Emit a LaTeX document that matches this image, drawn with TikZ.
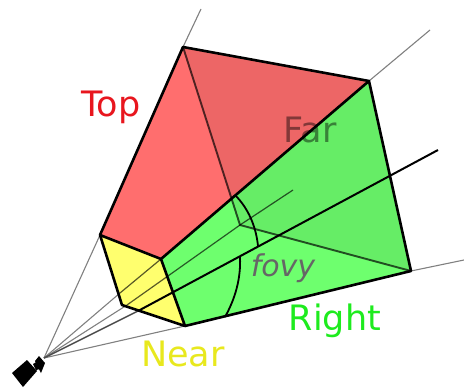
\documentclass[tikz,border=0pt]{standalone}
\usepackage{fontspec}
\setmainfont{DejaVu Sans}
\definecolor{redface}{HTML}{FF6E6E}
\definecolor{greenface}{HTML}{6EFF6E}
\definecolor{yellowface}{HTML}{FFFF6E}
\tikzset{
  edge/.style={draw=black,line width=2.6pt,line join=round},
  ray/.style={draw=black!50,line width=1.1pt},
  hidden/.style={draw=black,line width=1.9pt,opacity=0.68},
  inner/.style={draw=black,line width=1.2pt,opacity=0.65},
  centre/.style={draw=black,line width=2pt},
  arcline/.style={draw=black,line width=1.8pt},
  lab/.style={font=\fontsize{35}{35}\selectfont,inner sep=0pt}
}
\begin{document}
\begin{tikzpicture}[x=1pt,y=-1pt]
\useasboundingbox (0,0) rectangle (464,388);
\coordinate (O) at (44,358);
\coordinate (A) at (100,235);
\coordinate (B) at (161,259);
\coordinate (C) at (185,326);
\coordinate (D) at (122,305);
\coordinate (E) at (183,47);
\coordinate (F) at (369,81);
\coordinate (G) at (411,271);
\coordinate (H) at (240,225);
\coordinate (Q) at (138,311);
\coordinate (R) at (127,305);
\coordinate (S) at (120,293);
\coordinate (xE) at (201,9);
\coordinate (xF) at (430,30);
\coordinate (xG) at (464,260);
\coordinate (xH) at (293,190);
\coordinate (xC) at (438,150);
% faces
\fill[yellowface] (A)--(B)--(C)--(D)--cycle;
\fill[redface] (A)--(B)--(F)--(E)--cycle;
\fill[greenface] (B)--(C)--(G)--(F)--cycle;
\fill[black,opacity=0.07] (E)--(F)--(G)--(H)--cycle;
% rays
\draw[ray] (O)--(A);
\draw[ray] (O)--(S);
\draw[ray] (O)--(R);
\draw[ray] (O)--(C);
\draw[draw=black!70,line width=1.4pt] (O)--(Q);
\draw[ray] (E)--(xE);
\draw[ray] (F)--(xF);
\draw[ray] (G)--(xG);
% inner lines
\draw[inner] (S)--(B);
\draw[inner] (R)--(H);
\draw[inner] (H)--(xH);
\draw[centre] (Q)--(xC);
\draw[hidden] (E)--(H)--(G);
% arcs
\draw[arcline] (235,195) .. controls (248,208) and (256,226) .. (258,246);
\draw[arcline] (240,257) .. controls (241,279) and (235,299) .. (225,317);
% edges
\draw[edge] (A)--(B)--(C)--(D)--cycle;
\draw[edge] (A)--(E)--(F)--(G)--(C);
\draw[edge] (B)--(F);
% camera
\fill[black] (12,373)--(27,360)--(37,371)--(23,387)--cycle;
\fill[black] (39,356)--(45,363)--(41,373)--(35,361)--cycle;
\fill[black] (33,364)--(38,361)--(40,369)--(36,370)--cycle;
% labels
\node[lab,text={rgb,255:red,232;green,22;blue,30}] (top) at (111,107) {Top};
\node[lab,text=black,opacity=0.45] (far) at (310,130) {Far};
\node[lab,text={rgb,255:red,30;green,235;blue,30}] (right) at (335,321) {Right};
\node[lab,text={rgb,255:red,232;green,232;blue,30}] (near) at (183,354) {Near};
\node[lab,font=\fontsize{30}{30}\selectfont\itshape,text=black!60] (fovy) at (283,268) {fovy};
\end{tikzpicture}
\end{document}
